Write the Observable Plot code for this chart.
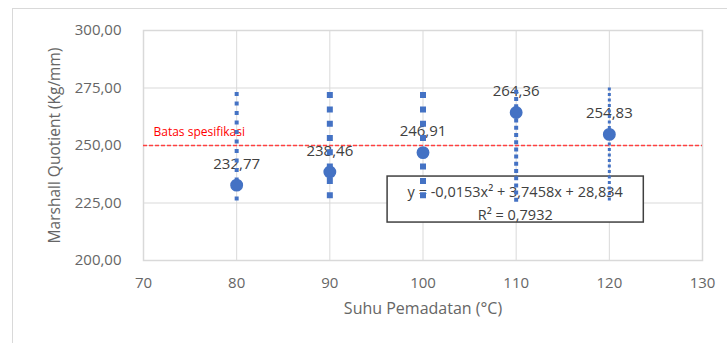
<!DOCTYPE html>
<html>
<head>
<meta charset="utf-8">
<script src="https://cdn.jsdelivr.net/npm/d3@7"></script>
<script src="https://cdn.jsdelivr.net/npm/@observablehq/plot@0.6"></script>
<style>
  html, body { margin: 0; padding: 0; background: #fff; }
  #wrap { position: relative; width: 727px; height: 343px; overflow: hidden; }
  #border { position: absolute; left: 12px; top: 8px; width: 760px; height: 400px;
            border-left: 1px solid #d9d9d9; border-top: 1px solid #d9d9d9; }
  #chart { position: absolute; left: 0; top: 0; }
</style>
</head>
<body>
<div id="wrap"><div id="border"></div><div id="chart"></div></div>
<script>
// ---- data ----
const temps = [80, 90, 100, 110, 120];
const mq = [232.77, 238.46, 246.91, 264.36, 254.83];
const mqLabels = ["232,77", "238,46", "246,91", "264,36", "254,83"];
const barLow = [225, 226, 226, 225, 225];
const barHigh = [273, 273, 273, 274, 275];
const specLimit = 250;
const specLabel = "Batas spesifikasi";
const xTicks = [70, 80, 90, 100, 110, 120, 130];
const yTicks = [200, 225, 250, 275, 300];
const equationText = "y = -0,0153x² + 3,7458x + 28,834";
const r2Text = "R² = 0,7932";
const xTitle = "Suhu Pemadatan (°C)";
const yTitle = "Marshall Quotient (Kg/mm)";

// ---- styles (not data) ----
const barStyles = [
  {w: 4, dash: "4,5.5"},
  {w: 6, dash: "6,8.3"},
  {w: 6, dash: "6,8.3"},
  {w: 4, dash: "4,3.2"},
  {w: 3, dash: "3,2.5"}
];
// equation box annotation placement (in data units)
const eqBox = {x1: 96.2, x2: 123.7, y1: 216.5, y2: 236.5, cx: 109.9, cy: 225.8};

const blue = "#4472C4";
const font = "Open Sans, sans-serif";
const rows = temps.map((t, i) => ({t, v: mq[i], lab: mqLabels[i], lo: barLow[i], hi: barHigh[i]}));
const fmt = d => d.toFixed(2).replace(".", ",");

const chart = Plot.plot({
  width: 727,
  height: 343,
  marginLeft: 143,
  marginRight: 25,
  marginTop: 30,
  marginBottom: 83,
  style: {fontFamily: font, background: "transparent", overflow: "visible"},
  x: {domain: [70, 130], ticks: xTicks},
  y: {domain: [200, 300], ticks: yTicks},
  marks: [
    Plot.gridX(xTicks, {stroke: "#d9d9d9", strokeOpacity: 1}),
    Plot.gridY(yTicks, {stroke: "#d9d9d9", strokeOpacity: 1}),
    Plot.frame({stroke: "#d9d9d9", strokeWidth: 1.5}),
    Plot.axisX(xTicks, {tickSize: 0, tickPadding: 17, label: null, fontSize: 15, fill: "#666666"}),
    Plot.axisY(yTicks, {tickSize: 0, tickPadding: 22, label: null, fontSize: 15, fill: "#666666", tickFormat: fmt}),
    Plot.text([xTitle], {frameAnchor: "bottom", dy: 53, text: d => d, fontSize: 16, fill: "#666666"}),
    Plot.text([yTitle], {frameAnchor: "left", dx: -88, rotate: -90, textAnchor: "middle", text: d => d, fontSize: 15.5, fill: "#666666"}),
    Plot.ruleY([specLimit], {stroke: "#ff4040", strokeWidth: 1.3, strokeDasharray: "4,2"}),
    Plot.text([specLabel], {x: 70, y: specLimit, dx: 10, dy: -13, text: d => d, textAnchor: "start", fontSize: 12, fill: "#ff0000"}),
    Plot.text(rows, {x: "t", y: "v", text: "lab", dy: -21, fontSize: 15, fill: "#404040"}),
    Plot.rect([eqBox], {x1: "x1", x2: "x2", y1: "y1", y2: "y2", fill: "white", stroke: "#404040", strokeWidth: 1.5}),
    Plot.text([equationText + "\n" + r2Text], {x: eqBox.cx, y: eqBox.cy, text: d => d, fontSize: 14.5, fill: "#404040", lineHeight: 1.55}),
    ...rows.map((r, i) => Plot.ruleX([r], {x: "t", y1: "hi", y2: "lo", stroke: blue, strokeWidth: barStyles[i].w, strokeDasharray: barStyles[i].dash})),
    Plot.dot(rows, {x: "t", y: "v", r: 5.7, fill: blue, stroke: blue})
  ]
});
document.getElementById("chart").appendChild(chart);
</script>
</body>
</html>
